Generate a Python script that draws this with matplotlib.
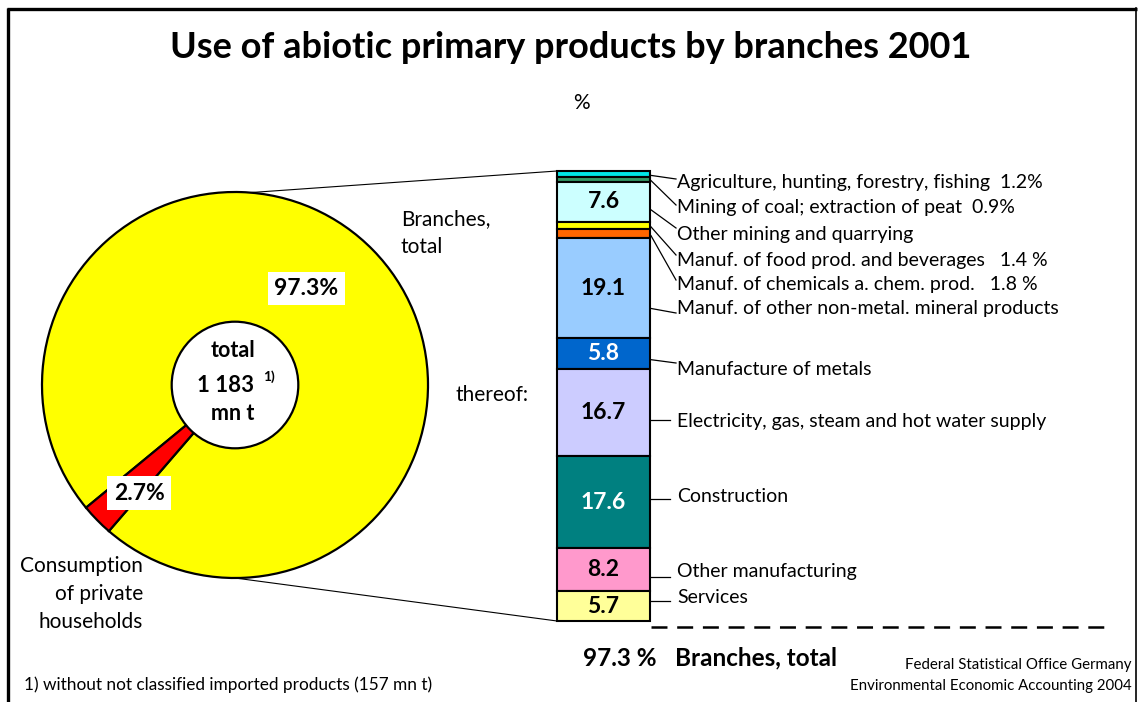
import numpy as np
import matplotlib
matplotlib.use("Agg")
import matplotlib.pyplot as plt
from matplotlib.patches import ConnectionPatch, Circle

plt.rcParams["font.family"] = ["Lato", "DejaVu Sans"]
plt.rcParams["lines.scale_dashes"] = False

W, H = 1138, 702

# share of total use (pie)
pie_names = ["Branches, total", "Consumption of private households"]
pie_shares = [97.3, 2.7]
pie_colors = ["#FFFF00", "#FF0000"]

# branches, listed top to bottom as stacked in the bar
branch_labels = [
    "Agriculture, hunting, forestry, fishing  1.2%",
    "Mining of coal; extraction of peat  0.9%",
    "Other mining and quarrying",
    "Manuf. of food prod. and beverages   1.4 %",
    "Manuf. of chemicals a. chem. prod.   1.8 %",
    "Manuf. of other non-metal. mineral products",
    "Manufacture of metals",
    "Electricity, gas, steam and hot water supply",
    "Construction",
    "Other manufacturing",
    "Services",
]
branch_values = [1.2, 0.9, 7.6, 1.4, 1.8, 19.1, 5.8, 16.7, 17.6, 8.2, 5.7]
branch_colors = ["#00E6E6", "#339966", "#CCFFFF", "#FFFF00", "#FF6600", "#99CCFF",
                 "#0066CC", "#CCCCFF", "#008080", "#FF99CC", "#FFFF99"]

# label baselines and leader line ends (pixels from top)
label_base = [188, 213, 240, 266, 290, 314, 375, 427, 502, 577, 603]
leader_end = [179, 205, 228, 255, 280, 313, 363, 420, 499, 577, 601]

fig = plt.figure(figsize=(W / 100, H / 100), dpi=100)

# overlay in pixel coordinates for text, frame and leader lines
ov = fig.add_axes([0, 0, 1, 1], zorder=5)
ov.set_xlim(0, W)
ov.set_ylim(H, 0)
ov.axis("off")

# frame
ov.plot([8.5, 8.5], [8, H + 5], color="black", lw=2.4, clip_on=False, solid_capstyle="butt")
ov.plot([7, 1137], [9, 9], color="black", lw=2.4, clip_on=False, solid_capstyle="butt")
ov.plot([1136, 1136], [8, H + 5], color="black", lw=1.2, clip_on=False)

# pie
pcx, pcy, prad = 235, 385, 193
half = 200
ax_pie = fig.add_axes([(pcx - half) / W, (H - pcy - half) / H, 2 * half / W, 2 * half / H], zorder=2)
ax_pie.pie(pie_shares, colors=pie_colors, startangle=229.2, counterclock=True, radius=1,
           wedgeprops=dict(edgecolor="black", linewidth=1.6))
lim = half / prad
ax_pie.set_xlim(-lim, lim)
ax_pie.set_ylim(-lim, lim)
ax_pie.set_aspect("equal")
ax_pie.axis("off")
ax_pie.add_patch(Circle((0, 0), 0.328, fc="white", ec="black", lw=1.6, zorder=3))

box = dict(boxstyle="square,pad=0.28", fc="white", ec="none")
ax_pie.text(0.370, 0.500, f"{pie_shares[0]}%", ha="center", va="center",
            fontsize=16.5, fontweight="bold", bbox=box, zorder=4)
ax_pie.text(-0.497, -0.560, f"{pie_shares[1]}%", ha="center", va="center",
            fontsize=16.5, fontweight="bold", bbox=box, zorder=4)

ax_pie.text(-0.01, 0.181, "total", ha="center", va="center", fontsize=15.5, fontweight="bold", zorder=4)
ax_pie.text(-0.05, 0.0, "1 183", ha="center", va="center", fontsize=16, fontweight="bold", zorder=4)
ax_pie.text(0.175, 0.045, "1)", ha="center", va="center", fontsize=10, fontweight="bold", zorder=4)
ax_pie.text(-0.01, -0.150, "mn t", ha="center", va="center", fontsize=15.5, fontweight="bold", zorder=4)

# stacked bar of branches
bx0, bx1, by0, by1 = 557, 650, 171, 621
ax_bar = fig.add_axes([bx0 / W, (H - by1) / H, (bx1 - bx0) / W, (by1 - by0) / H], zorder=3)
total = sum(branch_values)
bottoms = [sum(branch_values[i + 1:]) for i in range(len(branch_values))]
ax_bar.bar([0] * len(branch_values), branch_values, width=1.0, bottom=bottoms,
           color=branch_colors, edgecolor="black", linewidth=1.5, clip_on=False)
ax_bar.set_xlim(-0.5, 0.5)
ax_bar.set_ylim(0, total)
ax_bar.axis("off")

for v, b, c in zip(branch_values, bottoms, branch_colors):
    if v >= 5:
        tc = "white" if c in ("#0066CC", "#008080") else "black"
        ax_bar.text(0, b + v / 2, f"{v:.1f}", ha="center", va="center",
                    fontsize=16.5, fontweight="bold", color=tc)

# leader lines from the bar segments to the labels
to_pix = lambda ax, x, y: ov.transData.inverted().transform(ax.transData.transform((x, y)))
for lab, v, b, ly, ey in zip(branch_labels, branch_values, bottoms, label_base, leader_end):
    top_px = to_pix(ax_bar, 0.5, b + v)[1]
    bot_px = to_pix(ax_bar, 0.5, b)[1]
    h = bot_px - top_px
    ay = float(np.clip(ey, top_px + 0.3 * h, bot_px - 0.3 * h))
    ex = 670 if abs(ay - ey) < 0.5 else 676
    ov.plot([bx1 + 1, ex], [ay, ey], color="black", lw=0.9)
    ov.text(677, ly, lab, ha="left", va="baseline", fontsize=14)

# connecting lines between pie and bar
ang = np.deg2rad(85.5)
for xyA, xyB in [((np.cos(ang), np.sin(ang)), (-0.5, total)), ((0, -1), (-0.5, 0))]:
    con = ConnectionPatch(xyA=xyA, coordsA=ax_pie.transData, xyB=xyB, coordsB=ax_bar.transData,
                          color="black", lw=0.8, zorder=1)
    fig.add_artist(con)

# dashed total line
ov.plot([651, 1110], [627, 627], color="black", lw=1.8, linestyle=(0, (11.5, 7)))

# texts
ov.text(571, 47, "Use of abiotic primary products by branches 2001", ha="center", va="center",
        fontsize=26, fontweight="bold")
ov.text(581, 103, "%", ha="center", va="center", fontsize=15)
ov.text(401, 233, "Branches,\ntotal", ha="left", va="center", fontsize=15, linespacing=1.5)
ov.text(456, 395, "thereof:", ha="left", va="center", fontsize=15)
ov.text(143, 594, "Consumption\nof private\nhouseholds", ha="right", va="center",
        fontsize=15, linespacing=1.48)
ov.text(583, 658, f"{pie_shares[0]} %", ha="left", va="center", fontsize=17.5, fontweight="bold")
ov.text(675, 658, "Branches, total", ha="left", va="center", fontsize=17.5, fontweight="bold")
ov.text(24, 685, "1) without not classified imported products (157 mn t)", ha="left", va="center",
        fontsize=12.4)
ov.text(1132, 665, "Federal Statistical Office Germany", ha="right", va="center", fontsize=10.8)
ov.text(1132, 686, "Environmental Economic Accounting 2004", ha="right", va="center", fontsize=10.8)

fig.savefig("out.png", dpi=100, facecolor="white")
